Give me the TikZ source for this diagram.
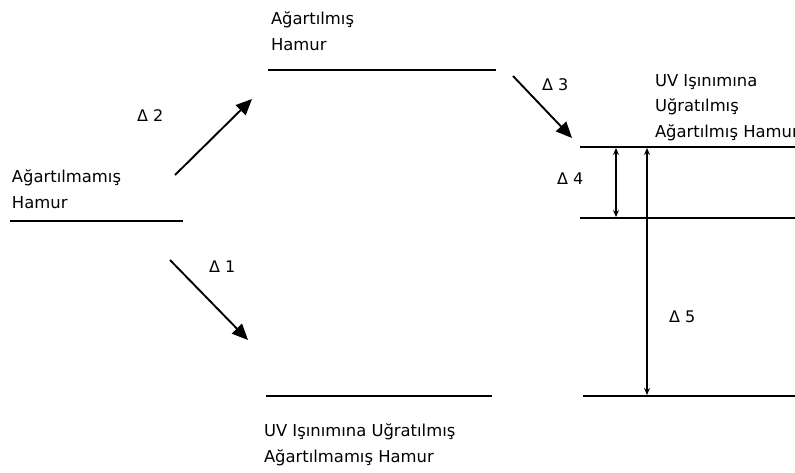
\documentclass[tikz,border=0pt]{standalone}
\usepackage{fontspec}
\setmainfont{DejaVu Sans}
\usetikzlibrary{arrows.meta}
\tikzset{
  lbl/.style={inner sep=0pt, outer sep=0pt, align=left, anchor=base west,
    font=\fontsize{16.4}{25.5}\selectfont},
  dlbl/.style={inner sep=0pt, anchor=west, font=\fontsize{16}{19}\selectfont},
  level/.style={line width=1.3pt},
  bigarrow/.style={line width=1.9pt, -{Triangle[length=16pt,width=14pt]}},
  gap/.style={line width=1.1pt, {Stealth[length=7pt,width=6pt]}-{Stealth[length=7pt,width=6pt]}}
}
\begin{document}
\begin{tikzpicture}[x=1pt,y=-1pt]
\useasboundingbox (0,0) rectangle (795,472);

% energy levels
\coordinate (ua) at (10,221);  \coordinate (ub) at (183,221);
\coordinate (ba) at (268,70);  \coordinate (bb) at (496,70);
\coordinate (uva) at (266,396); \coordinate (uvb) at (492,396);
\coordinate (ra) at (580,147); \coordinate (rb) at (795,147);
\coordinate (ma) at (580,218); \coordinate (mb) at (795,218);
\coordinate (la) at (583,396); \coordinate (lb) at (795,396);
\draw[level] (ua) -- (ub);
\draw[level] (ba) -- (bb);
\draw[level] (uva) -- (uvb);
\draw[level] (ra) -- (rb);
\draw[level] (ma) -- (mb);
\draw[level] (la) -- (lb);

% level names (anchored at the baseline of their last line)
\node[lbl] (unb) at (12,208) {Ağartılmamış\\Hamur};
\node[lbl] (bl) at (271,50) {Ağartılmış\\Hamur};
\node[lbl] (uvl) at (264,462) {UV Işınımına Uğratılmış\\Ağartılmamış Hamur};
\node[lbl] (rl) at (655,137) {UV Işınımına\\Uğratılmış\\Ağartılmış Hamur};

% transitions
\coordinate (a2s) at (175,175); \coordinate (a2e) at (252,99);
\coordinate (a1s) at (170,260); \coordinate (a1e) at (248,340);
\coordinate (a3s) at (513,76);  \coordinate (a3e) at (572,138);
\draw[bigarrow] (a2s) -- (a2e);
\draw[bigarrow] (a1s) -- (a1e);
\draw[bigarrow] (a3s) -- (a3e);

% gaps
\coordinate (g4t) at (616,148); \coordinate (g4b) at (616,217);
\coordinate (g5t) at (647,148); \coordinate (g5b) at (647,395);
\draw[gap] (g4t) -- (g4b);
\draw[gap] (g5t) -- (g5b);

% delta labels
\node[dlbl] (d2) at (137,116) {Δ 2};
\node[dlbl] (d1) at (209,267) {Δ 1};
\node[dlbl] (d3) at (542,85) {Δ 3};
\node[dlbl] (d4) at (557,179) {Δ 4};
\node[dlbl] (d5) at (669,317) {Δ 5};
\end{tikzpicture}
\end{document}
